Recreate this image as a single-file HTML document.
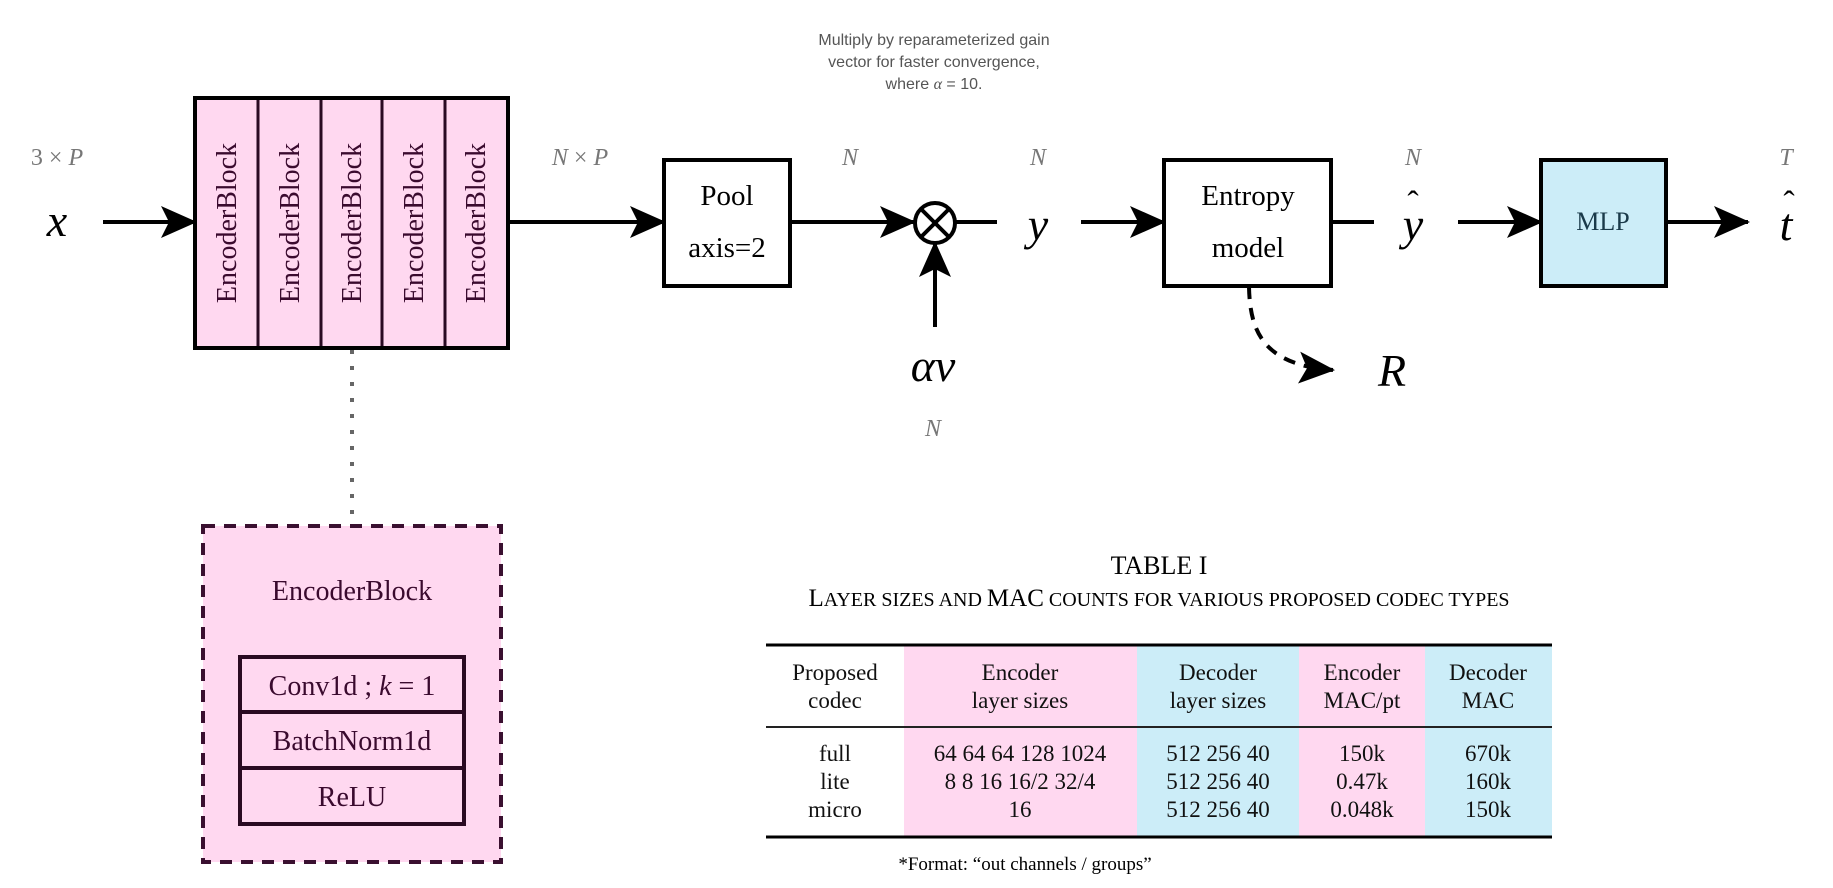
<!DOCTYPE html>
<html><head><meta charset="utf-8"><style>
html,body{margin:0;padding:0;background:#fff;}
svg{display:block;}
.ser{font-family:"Liberation Serif",serif;}
.it{font-family:"Liberation Serif",serif;font-style:italic;}
.lab{font-family:"Liberation Serif",serif;font-style:italic;fill:#777;font-size:24px;}
</style></head><body>
<svg width="1833" height="888" viewBox="0 0 1833 888" xmlns="http://www.w3.org/2000/svg">
<defs>
<marker id="ah" markerWidth="36" markerHeight="36" refX="34" refY="18" orient="auto" markerUnits="userSpaceOnUse">
<path d="M0,2 L36,18 L0,34 L8,18 Z" fill="#000"/>
</marker>
</defs>
<!-- note -->
<g font-family="Liberation Sans, sans-serif" font-size="16" fill="#555" text-anchor="middle">
<text x="934" y="45">Multiply by reparameterized gain</text>
<text x="934" y="67">vector for faster convergence,</text>
<text x="934" y="89">where <tspan font-family="Liberation Serif" font-style="italic">α</tspan> = 10.</text>
</g>
<!-- labels -->
<text class="lab" x="57" y="165" text-anchor="middle"><tspan font-style="normal">3 × </tspan>P</text>
<text class="lab" x="580" y="165" text-anchor="middle">N<tspan font-style="normal"> × </tspan>P</text>
<text class="lab" x="850" y="165" text-anchor="middle">N</text>
<text class="lab" x="1038" y="165" text-anchor="middle">N</text>
<text class="lab" x="1413" y="165" text-anchor="middle">N</text>
<text class="lab" x="1786" y="165" text-anchor="middle">T</text>
<text class="lab" x="933" y="436" text-anchor="middle">N</text>
<!-- math vars -->
<g class="it" font-size="46" text-anchor="middle" fill="#000">
<text x="57" y="236">x</text>
<text x="1038" y="240">y</text>
<text x="1413" y="240">y</text>
<text x="1413" y="214" font-style="normal" font-size="34">ˆ</text>
<text x="1786" y="240">t</text>
<text x="1789" y="214" font-style="normal" font-size="34">ˆ</text>
<text x="933" y="381">αv</text>
<text x="1392" y="386">R</text>
</g>
<!-- connectors -->
<g stroke="#000" stroke-width="4" fill="none">
<line x1="103" y1="222" x2="195" y2="222" marker-end="url(#ah)"/>
<line x1="508" y1="222" x2="664" y2="222" marker-end="url(#ah)"/>
<line x1="790" y1="222" x2="914" y2="222" marker-end="url(#ah)"/>
<line x1="955" y1="222" x2="997" y2="222"/>
<line x1="1081" y1="222" x2="1164" y2="222" marker-end="url(#ah)"/>
<line x1="1331" y1="222" x2="1374" y2="222"/>
<line x1="1458" y1="222" x2="1541" y2="222" marker-end="url(#ah)"/>
<line x1="1666" y1="222" x2="1748" y2="222" marker-end="url(#ah)"/>
<line x1="935" y1="327" x2="935" y2="243" marker-end="url(#ah)"/>
<path d="M1249,287 C1250,330 1262,365 1333,370" stroke-dasharray="12,9" marker-end="url(#ah)"/>
<circle cx="935" cy="223" r="20"/>
<line x1="921" y1="209" x2="949" y2="237"/>
<line x1="949" y1="209" x2="921" y2="237"/>
</g>
<line x1="352" y1="350" x2="352" y2="526" stroke="#666" stroke-width="4" stroke-dasharray="4,12"/>
<!-- encoder stack -->
<rect x="195" y="98" width="313" height="250" fill="#ffd8f0" stroke="#000" stroke-width="4"/>
<g stroke="#2a0a22" stroke-width="3">
<line x1="258" y1="100" x2="258" y2="346"/>
<line x1="321" y1="100" x2="321" y2="346"/>
<line x1="382" y1="100" x2="382" y2="346"/>
<line x1="445" y1="100" x2="445" y2="346"/>
</g>
<g class="ser" font-size="28" fill="#3a0a2e" text-anchor="middle">
<text transform="translate(236,223) rotate(-90)">EncoderBlock</text>
<text transform="translate(299,223) rotate(-90)">EncoderBlock</text>
<text transform="translate(361,223) rotate(-90)">EncoderBlock</text>
<text transform="translate(423,223) rotate(-90)">EncoderBlock</text>
<text transform="translate(485,223) rotate(-90)">EncoderBlock</text>
</g>
<!-- pool / entropy / mlp -->
<rect x="664" y="160" width="126" height="126" fill="#fff" stroke="#000" stroke-width="4"/>
<rect x="1164" y="160" width="167" height="126" fill="#fff" stroke="#000" stroke-width="4"/>
<rect x="1541" y="160" width="125" height="126" fill="#ccedf8" stroke="#000" stroke-width="4"/>
<g class="ser" font-size="29" text-anchor="middle" fill="#000">
<text x="727" y="205">Pool</text>
<text x="727" y="257">axis=2</text>
<text x="1248" y="205">Entropy</text>
<text x="1248" y="257">model</text>
<text x="1603" y="230" font-size="26" fill="#1a3a4a">MLP</text>
</g>
<!-- encoder block detail -->
<rect x="203" y="526" width="298" height="336" fill="#ffd8f0" stroke="#3a1030" stroke-width="4" stroke-dasharray="12,9"/>
<rect x="240" y="657" width="224" height="167" fill="none" stroke="#2a0a22" stroke-width="4"/>
<line x1="240" y1="712" x2="464" y2="712" stroke="#2a0a22" stroke-width="4"/>
<line x1="240" y1="768" x2="464" y2="768" stroke="#2a0a22" stroke-width="4"/>
<g class="ser" font-size="28" fill="#3a0a2e" text-anchor="middle">
<text x="352" y="600">EncoderBlock</text>
<text x="352" y="695">Conv1d ; <tspan font-style="italic">k</tspan> = 1</text>
<text x="352" y="750">BatchNorm1d</text>
<text x="352" y="806">ReLU</text>
</g>
<!-- table -->
<g class="ser" fill="#000" text-anchor="middle">
<text x="1159" y="574" font-size="26">TABLE I</text>
<text x="1159" y="606" font-size="25">L<tspan font-size="20">AYER SIZES AND </tspan>MAC<tspan font-size="20"> COUNTS FOR VARIOUS PROPOSED CODEC TYPES</tspan></text>
</g>
<rect x="904" y="644" width="233" height="193" fill="#ffd8f0"/>
<rect x="1137" y="644" width="162" height="193" fill="#ccedf8"/>
<rect x="1299" y="644" width="126" height="193" fill="#ffd8f0"/>
<rect x="1425" y="644" width="127" height="193" fill="#ccedf8"/>
<line x1="766" y1="645" x2="1552" y2="645" stroke="#000" stroke-width="3"/>
<line x1="766" y1="727" x2="1552" y2="727" stroke="#222" stroke-width="2"/>
<line x1="766" y1="837" x2="1552" y2="837" stroke="#000" stroke-width="3"/>
<g class="ser" font-size="23" fill="#111" text-anchor="middle">
<text x="835" y="680">Proposed</text><text x="835" y="708">codec</text>
<text x="1020" y="680">Encoder</text><text x="1020" y="708">layer sizes</text>
<text x="1218" y="680">Decoder</text><text x="1218" y="708">layer sizes</text>
<text x="1362" y="680">Encoder</text><text x="1362" y="708">MAC/pt</text>
<text x="1488" y="680">Decoder</text><text x="1488" y="708">MAC</text>
<text x="835" y="761">full</text><text x="835" y="789">lite</text><text x="835" y="817">micro</text>
<text x="1020" y="761">64 64 64 128 1024</text><text x="1020" y="789">8 8 16 16/2 32/4</text><text x="1020" y="817">16</text>
<text x="1218" y="761">512 256 40</text><text x="1218" y="789">512 256 40</text><text x="1218" y="817">512 256 40</text>
<text x="1362" y="761">150k</text><text x="1362" y="789">0.47k</text><text x="1362" y="817">0.048k</text>
<text x="1488" y="761">670k</text><text x="1488" y="789">160k</text><text x="1488" y="817">150k</text>
</g>
<text class="ser" x="1025" y="870" font-size="19" text-anchor="middle">*Format: “out channels / groups”</text>
</svg>
</body></html>
